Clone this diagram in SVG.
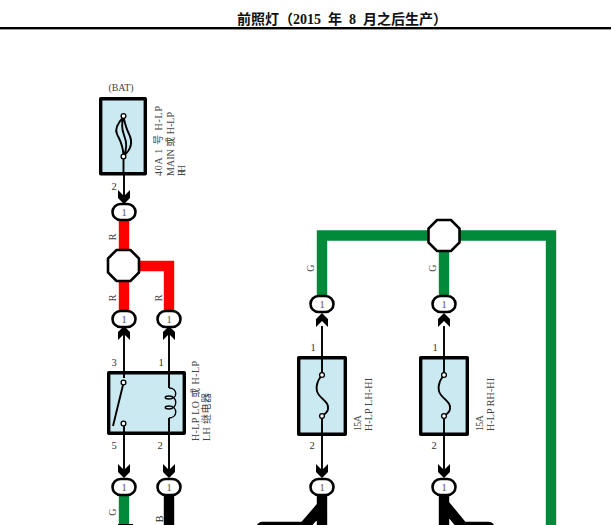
<svg xmlns="http://www.w3.org/2000/svg" xmlns:xlink="http://www.w3.org/1999/xlink" width="611" height="525" viewBox="0 0 611 525">
<style>
text{font-family:"Liberation Serif","Noto Sans CJK SC",serif;font-size:10px;fill:#444}
.z{font-family:"Noto Sans CJK SC",sans-serif;font-size:10px}
.t{font-size:14px;font-weight:bold;fill:#111}
.tz{font-family:"Noto Sans CJK SC",sans-serif}
.n{font-size:10.500px;text-anchor:middle;fill:#333}
.c{font-size:10.500px;text-anchor:middle;fill:#555}
.v{text-anchor:middle}
.box{fill:#cbe9f1;stroke:#000;stroke-width:3.4;stroke-linejoin:round}
.oval{fill:#fff;stroke:#000;stroke-width:2.6}
.oct{fill:#fff;stroke:#000;stroke-width:2.6}
.wire{fill:none;stroke-width:10.400}
.r{stroke:#f00}.g{stroke:#008a39}.b{stroke:#000;stroke-linecap:round}
.thin{fill:none;stroke:#000;stroke-width:1.9}
.coil{fill:none;stroke:#000;stroke-width:1.4}
.pin{fill:#fff;stroke:#000;stroke-width:1.3}
</style>
<defs>
<path id="dn" d="M-6-13L0-7L6-13V-5L0 1L-6-5Z" fill="#000"/>
<path id="up" d="M-6 13L0 7L6 13V5L0-1L-6 5Z" fill="#000"/>
<g id="conn"><rect class="oval" x="-11.500" y="-8" width="23" height="16" rx="8"/><text class="c" y="3.500">1</text></g>
<polygon id="octa" class="oct" points="-7,-15.500 7,-15.500 15.500,-7 15.500,7 7,15.500 -7,15.500 -15.500,7 -15.500,-7"/>
</defs>
<rect width="611" height="525" fill="#fff"/>
<g id="title"><text y="24" class="t"><tspan class="tz" x="237">前照灯（</tspan><tspan x="293">2015</tspan><tspan class="tz" x="328">年</tspan><tspan x="349">8</tspan><tspan class="tz" x="363">月之后生产）</tspan></text><rect x="0" y="27" width="611" height="2.400" fill="#000"/></g>
<g id="connectors">
<path class="wire r" d="M124 218V252M124 280V312M138 266H169V312"/>
<path class="wire g" d="M322 296V235.500H551V525M444 250V296"/>
<path class="wire g" d="M124 494V525"/>
<rect x="118" y="524" width="15" height="1" fill="#000"/>
<path class="wire b" d="M169 496V530M322 496V530M322 506L304 527H262M444 496V530M444 504L463 527H489"/>
<path class="thin" d="M124 175V196M124 330V372M169 330V372M124 435V470M169 435V470M322 326V357M444 326V357M322 436V470M444 436V470"/>
<use xlink:href="#dn" x="124" y="203"/><use xlink:href="#up" x="124" y="327"/><use xlink:href="#up" x="169" y="327"/>
<use xlink:href="#dn" x="124" y="477"/><use xlink:href="#dn" x="169" y="477"/>
<use xlink:href="#up" x="322" y="314"/><use xlink:href="#up" x="444" y="314"/>
<use xlink:href="#dn" x="322" y="477"/><use xlink:href="#dn" x="444" y="477"/>
<text class="v" x="116" y="237" transform="rotate(-90 116 237)">R</text>
<text class="v" x="116" y="298" transform="rotate(-90 116 298)">R</text>
<text class="v" x="162" y="298" transform="rotate(-90 162 298)">R</text>
<text class="v" x="314" y="268" transform="rotate(-90 314 268)">G</text>
<text class="v" x="436" y="268" transform="rotate(-90 436 268)">G</text>
<text class="v" x="116" y="512" transform="rotate(-90 116 512)">G</text>
<text class="v" x="163" y="519" transform="rotate(-90 163 519)" style="fill:#222">B</text>
</g>
<g id="fuse-bat"><text class="v" x="121" y="91" textLength="25">(BAT)</text>
<rect class="box" x="100.700" y="98.700" width="44.600" height="75"/>
<path class="thin" d="M123.500 117C117 124 115 130 117 134C119 139 123 143 123.500 156M123.500 117C121 125 122 130 124 135C126 140 128 148 123.500 156M123.500 117C125 124 127 130 129 134C132 140 133 148 123.500 156M123.500 157V175"/>
<circle class="pin" cx="123.500" cy="116" r="2.400"/><circle class="pin" cx="123.500" cy="156.500" r="2.400"/>
<text class="n" x="114" y="190">2</text>
<g transform="translate(162 176) rotate(-90)"><text textLength="70">40A 1 <tspan class="z">号</tspan> H-LP</text><text y="11.500" textLength="64">MAIN <tspan class="z">或</tspan> H-LP</text><text y="23" textLength="11">RH</text></g></g>
<g id="c1"><use xlink:href="#conn" x="124" y="212"/></g>
<g id="j1"><use xlink:href="#octa" x="123.500" y="265.500"/></g>
<g id="c2"><use xlink:href="#conn" x="124" y="319"/></g>
<g id="c3"><use xlink:href="#conn" x="169" y="319"/></g>
<g id="relay"><rect class="box" x="108.700" y="372.700" width="75.600" height="60.600"/>
<path class="thin" d="M124 372V378M123 385L113 426M124 426V435M169 372V388M169 418V435"/>
<path class="coil" d="M169 388C178 388 178 399 169 399C164 399 164 396 169 396C178 396 178 409 169 409C164 409 164 406 169 406C178 406 178 418 169 418"/>
<circle class="pin" cx="123.500" cy="382.500" r="2.400"/><circle class="pin" cx="123.500" cy="423.500" r="2.400"/>
<text class="n" x="114" y="366">3</text><text class="n" x="161" y="366">1</text>
<text class="n" x="114" y="449">5</text><text class="n" x="160" y="449">2</text>
<g transform="translate(199 441) rotate(-90)"><text textLength="80">H-LP LO <tspan class="z">或</tspan> H-LP</text><text y="11" textLength="48">LH <tspan class="z">继电器</tspan></text></g></g>
<g id="c4"><use xlink:href="#conn" x="124" y="487"/></g>
<g id="c5"><use xlink:href="#conn" x="169" y="487"/></g>
<g id="j2"><use xlink:href="#octa" x="444" y="235.500"/></g>
<g id="c6"><use xlink:href="#conn" x="322" y="304"/></g>
<g id="c7"><use xlink:href="#conn" x="444" y="304"/></g>
<g id="fuse-lh"><rect class="box" x="298.700" y="357.700" width="46.600" height="76.600"/>
<path class="thin" d="M322 357V375C316 382 315 390 319 395C324 401 329 403 328 409C328 412 325 414 322 416V436"/>
<circle class="pin" cx="322" cy="375" r="2.400"/><circle class="pin" cx="322" cy="416" r="2.400"/>
<text class="n" x="313" y="351">1</text><text class="n" x="312" y="449">2</text>
<g transform="translate(361 431) rotate(-90)"><text textLength="16">15A</text><text y="11" textLength="53">H-LP LH-HI</text></g></g>
<g id="fuse-rh"><rect class="box" x="420.700" y="357.700" width="46.600" height="76.600"/>
<path class="thin" d="M444 357V375C438 382 437 390 441 395C446 401 451 403 450 409C450 412 447 414 444 416V436"/>
<circle class="pin" cx="444" cy="375" r="2.400"/><circle class="pin" cx="444" cy="416" r="2.400"/>
<text class="n" x="435" y="351">1</text><text class="n" x="434" y="449">2</text>
<g transform="translate(483 431) rotate(-90)"><text textLength="16">15A</text><text y="11" textLength="53">H-LP RH-HI</text></g></g>
<g id="c8"><use xlink:href="#conn" x="322" y="487"/></g>
<g id="c9"><use xlink:href="#conn" x="444" y="487"/></g>
</svg>
